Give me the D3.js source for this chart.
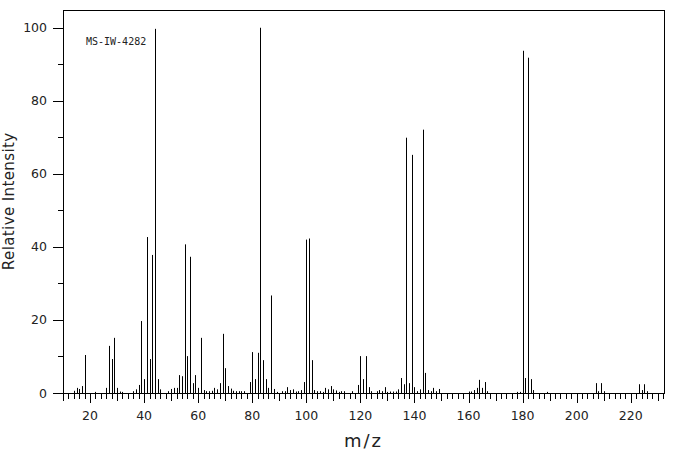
<!DOCTYPE html>
<html>
<head>
<meta charset="utf-8">
<script src="https://d3js.org/d3.v7.min.js"></script>
<style>
  body { margin: 0; background: #fff; }
  text { font-family: "DejaVu Sans", sans-serif; fill: #222; }
</style>
</head>
<body>
<div id="ms_chart"></div>
<script>
// Peak data (m/z and relative intensity)
var mz = [14, 15, 16, 17, 18, 22, 26, 27, 28, 29, 30, 31, 32, 36, 37, 38, 39, 40, 41, 42,
  43, 44, 45, 46, 49, 50, 51, 52, 53, 54, 55, 56, 57, 58, 59, 60, 61, 62, 63, 64,
  65, 66, 67, 68, 69, 70, 71, 72, 73, 74, 75, 76, 77, 79, 80, 81, 82, 83, 84, 85,
  86, 87, 88, 89, 91, 92, 93, 94, 95, 96, 97, 98, 99, 100, 101, 102, 103, 104, 105, 106,
  107, 108, 109, 110, 111, 112, 113, 114, 117, 119, 120, 121, 122, 123, 124, 126, 127, 128, 129, 130,
  131, 132, 133, 134, 135, 136, 137, 138, 139, 140, 141, 142, 143, 144, 145, 146, 147, 148, 149, 160,
  161, 162, 163, 164, 165, 166, 167, 178, 179, 180, 181, 182, 183, 184, 189, 207, 208, 209, 210, 223,
  224, 225, 226];
var intensity = [0.6, 1.4, 1.1, 1.9, 10.4, 0.3, 1.4, 12.9, 9.3, 15.1, 1.4, 0.4, 0.3, 0.5, 1.0, 2.2, 19.7, 3.8, 42.7, 9.3,
  37.8, 99.7, 3.8, 1.0, 0.5, 1.1, 1.4, 1.4, 4.9, 4.6, 40.7, 10.1, 37.3, 2.7, 4.9, 1.4, 15.1, 0.8, 0.5, 0.5,
  0.6, 1.4, 1.0, 2.7, 16.2, 6.8, 1.9, 1.2, 0.6, 0.5, 0.5, 0.5, 0.5, 3.0, 11.2, 3.8, 11.0, 100, 9.0, 3.8,
  1.4, 26.7, 1.1, 0.3, 0.5, 0.5, 1.6, 0.8, 1.0, 0.4, 0.5, 0.8, 3.0, 42.0, 42.3, 9.0, 0.8, 0.5, 0.5, 0.3,
  1.4, 1.0, 1.9, 1.0, 0.7, 0.3, 0.5, 0.5, 0.5, 2.2, 10.1, 3.8, 10.1, 1.6, 0.5, 0.5, 0.8, 0.5, 1.6, 0.3,
  0.4, 0.4, 0.4, 1.0, 4.1, 2.4, 69.9, 2.7, 65.2, 1.6, 0.5, 1.0, 72.1, 5.5, 0.8, 0.5, 1.4, 0.5, 1.1, 0.4,
  0.4, 0.8, 1.4, 3.6, 1.4, 3.0, 0.5, 0.3, 0.3, 93.7, 4.1, 91.8, 3.8, 0.8, 0.3, 2.7, 0.5, 2.7, 0.5, 2.4,
  0.8, 2.4, 0.5];

var xTickLabels = [20, 40, 60, 80, 100, 120, 140, 160, 180, 200, 220];
var yTickLabels = [0, 20, 40, 60, 80, 100];
var sampleId = "MS-IW-4282";

// Set up the SVG dimensions
var width = 676, height = 455;
var plot = { left: 63, right: 664, top: 9.5, bottom: 393 };

var svg = d3.select("#ms_chart")
  .append("svg")
    .attr("width", width)
    .attr("height", height);

var x = d3.scaleLinear().domain([10, 232.3]).range([plot.left, plot.right]);
var y = d3.scaleLinear().domain([0, 105]).range([plot.bottom, plot.top]);

// crisp 1px lines
function px(v) { return Math.round(v) + 0.5; }

// frame round the plot
svg.append("rect")
  .attr("x", px(plot.left)).attr("y", px(plot.top))
  .attr("width", Math.round(plot.right) - Math.round(plot.left))
  .attr("height", Math.round(plot.bottom) - Math.round(plot.top))
  .attr("fill", "none")
  .attr("stroke", "#000");

// x ticks: every 2, longer at 10, longest at 20
var xTicks = d3.range(10, 233, 2);
svg.append("g")
  .selectAll("line")
  .data(xTicks)
  .join("line")
    .attr("x1", function(d) { return px(x(d)); })
    .attr("x2", function(d) { return px(x(d)); })
    .attr("y1", Math.round(plot.bottom))
    .attr("y2", function(d) { return Math.round(plot.bottom) + (d % 20 === 0 ? 10 : d % 10 === 0 ? 8 : 6); })
    .attr("stroke", "#000");

svg.append("g")
  .selectAll("text")
  .data(xTickLabels)
  .join("text")
    .attr("x", function(d) { return x(d); })
    .attr("y", 420)
    .attr("text-anchor", "middle")
    .style("font-size", "12.5px")
    .text(function(d) { return d; });

// y ticks every 10, labels every 20
var yTicks = d3.range(0, 101, 10);
svg.append("g")
  .selectAll("line")
  .data(yTicks)
  .join("line")
    .attr("x1", function(d) { return Math.round(plot.left) - (d % 20 === 0 ? 10 : 5); })
    .attr("x2", Math.round(plot.left))
    .attr("y1", function(d) { return px(y(d)); })
    .attr("y2", function(d) { return px(y(d)); })
    .attr("stroke", "#000");

svg.append("g")
  .selectAll("text")
  .data(yTickLabels)
  .join("text")
    .attr("x", 47)
    .attr("y", function(d) { return y(d); })
    .attr("dy", "0.36em")
    .attr("text-anchor", "end")
    .style("font-size", "12.5px")
    .text(function(d) { return d; });

// peaks as vertical sticks
svg.append("g")
  .selectAll("line")
  .data(mz.map(function(m, i) { return [m, intensity[i]]; }))
  .join("line")
    .attr("x1", function(d) { return px(x(d[0])); })
    .attr("x2", function(d) { return px(x(d[0])); })
    .attr("y1", y(0))
    .attr("y2", function(d) { return y(d[1]); })
    .attr("stroke", "#000")
    .attr("stroke-width", 1);

// sample label
svg.append("text")
  .attr("x", 86)
  .attr("y", 45)
  .style("font-family", "'DejaVu Sans Mono', monospace")
  .style("font-size", "10px")
  .text(sampleId);

// axis titles
svg.append("text")
  .attr("x", (plot.left + plot.right) / 2)
  .attr("y", 447)
  .attr("text-anchor", "middle")
  .style("font-size", "18px")
  .style("letter-spacing", "2px")
  .text("m/z");

svg.append("text")
  .attr("transform", "translate(14," + ((plot.top + plot.bottom) / 2) + ") rotate(-90)")
  .attr("text-anchor", "middle")
  .style("font-size", "15px")
  .style("letter-spacing", "0.4px")
  .text("Relative Intensity");
</script>
</body>
</html>
